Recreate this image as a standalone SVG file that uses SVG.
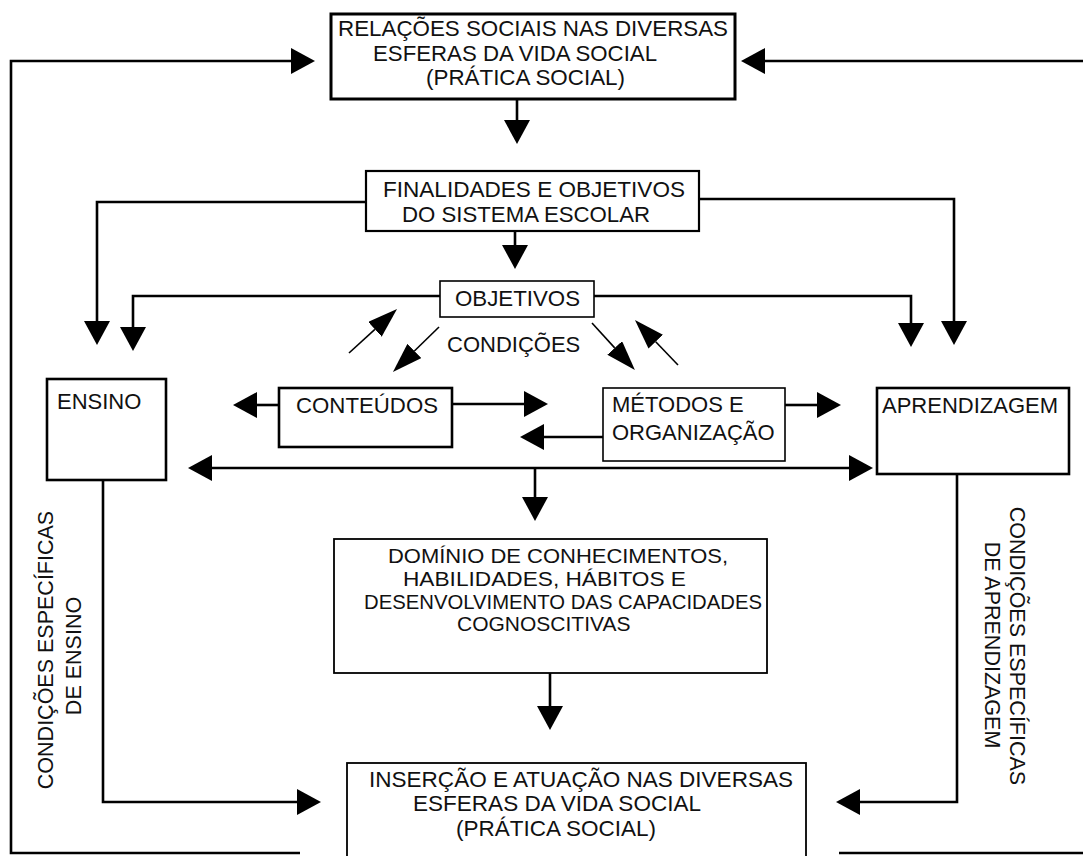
<svg xmlns="http://www.w3.org/2000/svg" width="1083" height="856" viewBox="0 0 1083 856">
<defs>
<marker id="ah" markerUnits="userSpaceOnUse" markerWidth="24" markerHeight="26" viewBox="0 0 24 26" refX="0" refY="13" orient="auto-start-reverse"><path d="M0,0 L24,13 L0,26 Z" fill="#000"/></marker>
<marker id="ad" markerUnits="userSpaceOnUse" markerWidth="30" markerHeight="20" viewBox="0 0 30 20" refX="0" refY="10" orient="auto"><path d="M0,0 L30,10 L0,20 Z" fill="#000"/></marker>
<style>
.box{fill:#fff;stroke:#000;stroke-width:2.2}
.t{font-family:"Liberation Sans",Arial,sans-serif;font-size:22px;fill:#111}
.n{font-size:22.5px}
.c{fill:none;stroke:#000;stroke-width:2.6}
.d{fill:none;stroke:#000;stroke-width:1.6}
</style>
</defs>
<rect width="1083" height="856" fill="#fff"/>
<g id="connectors">
<path class="c" d="M300,853 H11 V61 H291" marker-end="url(#ah)"/>
<path class="c" d="M1083,61 H765" marker-end="url(#ah)"/>
<path class="c" d="M517,99 V120" marker-end="url(#ah)"/>
<path class="c" d="M515,231 V245" marker-end="url(#ah)"/>
<path class="c" d="M366,202 H97 V321" marker-end="url(#ah)"/>
<path class="c" d="M699,199 H954 V321" marker-end="url(#ah)"/>
<path class="c" d="M440,296 H133 V327" marker-end="url(#ah)"/>
<path class="c" d="M594,296 H911 V323" marker-end="url(#ah)"/>
<path class="d" d="M349,353 L374.9,329.3" marker-end="url(#ad)"/>
<path class="d" d="M439,327 L414.4,351" marker-end="url(#ad)"/>
<path class="d" d="M592,323 L614.7,347.9" marker-end="url(#ad)"/>
<path class="d" d="M678,365 L655.7,341.7" marker-end="url(#ad)"/>
<path class="c" d="M279,405 H257" marker-end="url(#ah)"/>
<path class="c" d="M452,404 H524" marker-end="url(#ah)"/>
<path class="c" d="M785,405 H817" marker-end="url(#ah)"/>
<path class="c" d="M603,437 H544" marker-end="url(#ah)"/>
<path class="c" d="M212,468 H849" marker-start="url(#ah)" marker-end="url(#ah)"/>
<path class="c" d="M535,468 V497" marker-end="url(#ah)"/>
<path class="c" d="M550,673 V706" marker-end="url(#ah)"/>
<path class="c" d="M103,480 V802 H297" marker-end="url(#ah)"/>
<path class="c" d="M957,474 V802 H860" marker-end="url(#ah)"/>
<path class="c" d="M839,853 H1083"/>
</g>
<g id="n-relacoes">
<rect class="box" x="331" y="14" width="404" height="85" style="stroke-width:3"/>
<text class="t n" x="338" y="36" textLength="390" lengthAdjust="spacingAndGlyphs">RELAÇÕES SOCIAIS NAS DIVERSAS</text>
<text class="t n" x="373" y="61" textLength="284" lengthAdjust="spacingAndGlyphs">ESFERAS DA VIDA SOCIAL</text>
<text class="t n" x="426" y="85" textLength="199" lengthAdjust="spacingAndGlyphs">(PRÁTICA SOCIAL)</text>
</g>
<g id="n-finalidades">
<rect class="box" x="366" y="171" width="333" height="60"/>
<text class="t n" x="383" y="197" textLength="302" lengthAdjust="spacingAndGlyphs">FINALIDADES E OBJETIVOS</text>
<text class="t n" x="402" y="222" textLength="248" lengthAdjust="spacingAndGlyphs">DO SISTEMA ESCOLAR</text>
</g>
<g id="n-objetivos">
<rect class="box" x="440" y="281" width="154" height="36" style="stroke-width:1.6"/>
<text class="t n" x="455" y="306" textLength="125" lengthAdjust="spacingAndGlyphs">OBJETIVOS</text>
</g>
<g id="n-condicoes">
<text class="t" x="447" y="352">CONDIÇÕES</text>
</g>
<g id="n-ensino">
<rect class="box" x="47" y="379" width="119" height="101" style="stroke-width:2.6"/>
<text class="t" x="57" y="409">ENSINO</text>
</g>
<g id="n-conteudos">
<rect class="box" x="279" y="388" width="173" height="59" style="stroke-width:2.6"/>
<text class="t n" x="296" y="413" textLength="142" lengthAdjust="spacingAndGlyphs">CONTEÚDOS</text>
</g>
<g id="n-metodos">
<rect class="box" x="603" y="388" width="182" height="73" style="stroke-width:1.6"/>
<text class="t" x="612" y="412">MÉTODOS E</text>
<text class="t" x="612" y="440">ORGANIZAÇÃO</text>
</g>
<g id="n-aprendizagem">
<rect class="box" x="877" y="388" width="192" height="86" style="stroke-width:2.6"/>
<text class="t" x="882" y="413">APRENDIZAGEM</text>
</g>
<g id="n-dominio">
<rect class="box" x="334" y="539" width="433" height="134" style="stroke-width:1.8"/>
<text class="t" x="388" y="563" style="font-size:21px" textLength="340" lengthAdjust="spacingAndGlyphs">DOMÍNIO DE CONHECIMENTOS,</text>
<text class="t" x="403" y="586" style="font-size:21px" textLength="283" lengthAdjust="spacingAndGlyphs">HABILIDADES, HÁBITOS E</text>
<text class="t" x="364" y="609" style="font-size:21px" textLength="398" lengthAdjust="spacingAndGlyphs">DESENVOLVIMENTO DAS CAPACIDADES</text>
<text class="t" x="457" y="631" style="font-size:21px">COGNOSCITIVAS</text>
</g>
<g id="n-insercao">
<rect class="box" x="347" y="763" width="459" height="110" style="stroke-width:1.8"/>
<text class="t n" x="369" y="787" textLength="424" lengthAdjust="spacingAndGlyphs">INSERÇÃO E ATUAÇÃO NAS DIVERSAS</text>
<text class="t n" x="413" y="811" textLength="288" lengthAdjust="spacingAndGlyphs">ESFERAS DA VIDA SOCIAL</text>
<text class="t n" x="456" y="836" textLength="200" lengthAdjust="spacingAndGlyphs">(PRÁTICA SOCIAL)</text>
</g>
<g id="n-cond-ensino">
<text class="t" style="font-size:21.5px" text-anchor="middle" transform="translate(53,650) rotate(-90)">CONDIÇÕES ESPECÍFICAS</text>
<text class="t" style="font-size:21.5px" text-anchor="middle" transform="translate(81,656) rotate(-90)">DE ENSINO</text>
</g>
<g id="n-cond-aprendizagem">
<text class="t" style="font-size:21.5px" text-anchor="middle" transform="translate(1010,646) rotate(90)">CONDIÇÕES ESPECÍFICAS</text>
<text class="t" style="font-size:21.5px" text-anchor="middle" transform="translate(985,645) rotate(90)">DE APRENDIZAGEM</text>
</g>
</svg>
